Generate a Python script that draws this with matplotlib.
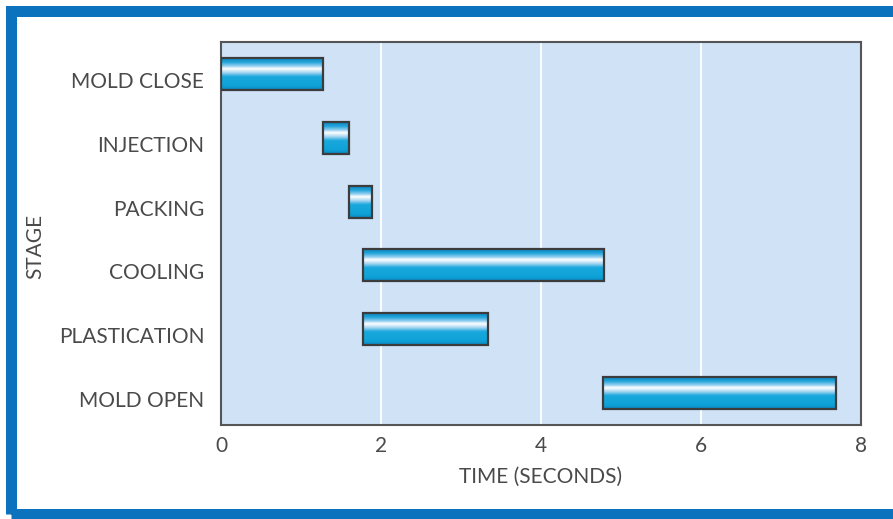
import matplotlib
matplotlib.use("Agg")
import matplotlib.pyplot as plt
import matplotlib.transforms as mtransforms
import numpy as np
from matplotlib.patches import Rectangle
from matplotlib.colors import LinearSegmentedColormap

stages = ["MOLD CLOSE", "INJECTION", "PACKING", "COOLING", "PLASTICATION", "MOLD OPEN"]
starts = [0.0, 1.27, 1.60, 1.78, 1.78, 4.78]
ends = [1.27, 1.60, 1.89, 4.79, 3.34, 7.69]
xticks = [0, 2, 4, 6, 8]

plt.rcParams['font.family'] = ['Lato', 'DejaVu Sans']
txt = '#4a4a4a'

fig = plt.figure(figsize=(8.93, 5.19), dpi=100)
ax = fig.add_axes([221/893, 94/519, 640/893, 383/519])
ax.set_facecolor('#cfe2f6')

cmap = LinearSegmentedColormap.from_list('bar', [
    (0.0, '#0a88c2'), (0.12, '#22a4da'), (0.24, '#8fcdf0'), (0.33, '#ffffff'),
    (0.45, '#a9d6f2'), (0.58, '#1aa8dc'), (0.88, '#0ea2d8'), (1.0, '#0a86c0')])
grad = np.linspace(0, 1, 64).reshape(-1, 1)

h = 0.5
for i, (s, e) in enumerate(zip(starts, ends)):
    ax.imshow(grad, cmap=cmap, aspect='auto', origin='upper',
              extent=(s, e, i + h/2, i - h/2), zorder=3, interpolation='bilinear')
    ax.add_patch(Rectangle((s, i - h/2), e - s, h, fill=False,
                           edgecolor='#3c3c3c', linewidth=1.6, zorder=4))

ax.set_xlim(0, 8)
ax.set_ylim(5.5, -0.5)
ax.set_aspect('auto')
ax.set_xticks(xticks)
ax.set_xticklabels([str(v) for v in xticks])
ax.set_yticks(range(len(stages)))
ax.set_yticklabels(stages)
ax.tick_params(axis='both', length=0, labelsize=15, colors=txt)
ax.tick_params(axis='y', pad=12)
ax.tick_params(axis='x', pad=8)
ax.grid(axis='x', color='white', linewidth=1.3, zorder=1)
ax.set_axisbelow(True)
for sp in ax.spines.values():
    sp.set_color('#555555')
    sp.set_linewidth(1.5)

offset = mtransforms.ScaledTranslation(0, -6/100, fig.dpi_scale_trans)
for lab in ax.get_yticklabels():
    lab.set_transform(lab.get_transform() + offset)

ax.set_xlabel('TIME (SECONDS)', fontsize=15, color=txt, labelpad=8)
ax.set_ylabel('STAGE', fontsize=15, color=txt)
ax.yaxis.set_label_coords(35/893, 1 - 246/519, transform=fig.transFigure)
ax.yaxis.label.set_va('center')

border = Rectangle((10.5/893, 5/519), 1.05, 1 - 15.5/519, transform=fig.transFigure,
                   fill=False, edgecolor='#0b72bd', linewidth=11*72/100, clip_on=False)
fig.patches.append(border)

fig.savefig('out.png', dpi=100)
